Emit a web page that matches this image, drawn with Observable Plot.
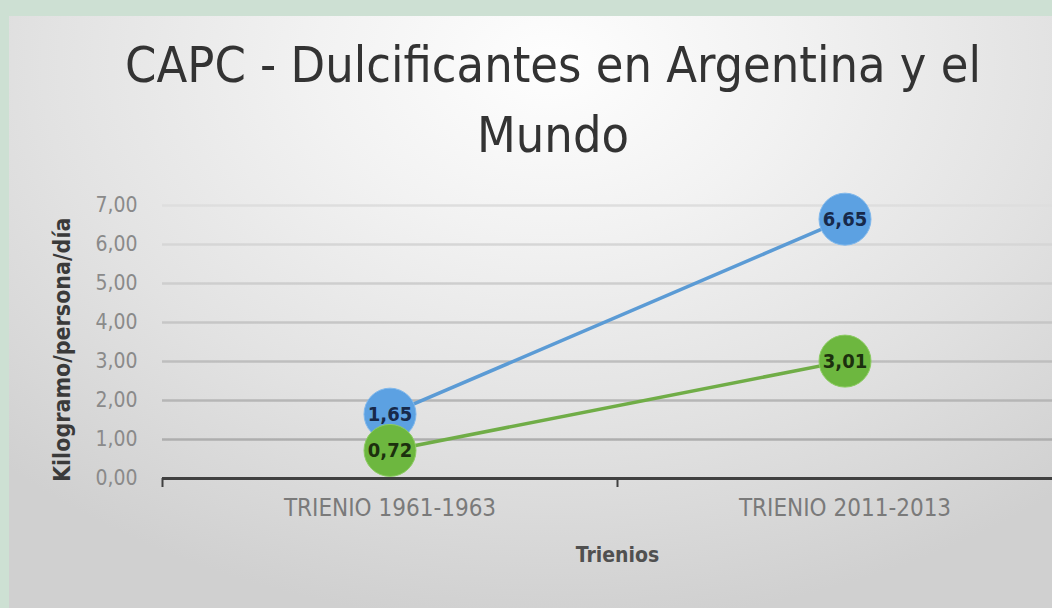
<!DOCTYPE html>
<html>
<head>
<meta charset="utf-8">
<script src="https://cdn.jsdelivr.net/npm/d3@7"></script>
<script src="https://cdn.jsdelivr.net/npm/@observablehq/plot@0.6"></script>
<style>
  html, body { margin: 0; padding: 0; width: 1052px; height: 608px; overflow: hidden; background: #cde0d3; }
  #panel {
    position: absolute; left: 9px; top: 16px; width: 1043px; height: 592px; overflow: hidden;
    background: radial-gradient(ellipse 75% 95% at 52% 8%, #fefefe 0%, #f2f2f2 30%, #e2e2e2 65%, #d0d0d0 100%);
  }
  #title {
    position: absolute; left: 0; top: 0; width: 1043px; box-sizing: border-box;
    padding-left: 45px; padding-top: 14px; text-align: center;
    font-family: "Liberation Sans Narrow", "Arial Narrow", "DejaVu Sans Condensed", sans-serif;
    font-size: 50px; line-height: 70px; color: #333333;
  }
  #chart { position: absolute; left: 0; top: 164px; }
</style>
</head>
<body>
<div id="panel">
  <div id="title">CAPC - Dulcificantes en Argentina y el<br>Mundo</div>
  <div id="chart"></div>
</div>
<script>
const categories = ["TRIENIO 1961-1963", "TRIENIO 2011-2013"];
const serieAzul = [1.65, 6.65];   // serie azul
const serieVerde = [0.72, 3.01];  // serie verde
const yTicks = [0, 1, 2, 3, 4, 5, 6, 7];
const yLabel = "Kilogramo/persona/día";
const xLabel = "Trienios";

const font = '"Liberation Sans Narrow", "Arial Narrow", "DejaVu Sans Condensed", sans-serif';
const fmt = v => v.toFixed(2).replace(".", ",");
const pos = (d, i) => i + 0.5;

const azul = categories.map((c, i) => ({c, i, v: serieAzul[i]}));
const verde = categories.map((c, i) => ({c, i, v: serieVerde[i]}));
const grid = d3.interpolateRgb("#a6a6a6", "#dedede");

const plot = Plot.plot({
  width: 1070,
  height: 428,
  marginTop: 25,
  marginBottom: 130,
  marginLeft: 153,
  marginRight: 7,
  style: {background: "transparent", maxWidth: "none", overflow: "visible", fontFamily: font},
  x: {domain: [0, categories.length], axis: null},
  y: {domain: [0, 7], axis: null},
  marks: [
    Plot.ruleY(yTicks.filter(d => d > 0), {y: d => d, stroke: d => grid(d / 7), strokeWidth: 2.5}),
    Plot.ruleY([0], {stroke: "#404040", strokeWidth: 3}),
    Plot.ruleX(d3.range(categories.length + 1), {x: d => d, y1: 0, y2: 0, insetBottom: -9, stroke: "#404040", strokeWidth: 2}),
    Plot.text(yTicks, {y: d => d, frameAnchor: "left", dx: -25, textAnchor: "end", text: fmt, fontSize: 21, fill: "#8a8a8a"}),
    Plot.text(categories, {x: pos, frameAnchor: "bottom", dy: 37, text: d => d, fontSize: 24, fill: "#7a7a7a"}),
    Plot.text([xLabel], {frameAnchor: "bottom", dy: 83, text: d => d, fontSize: 21, fontWeight: "bold", fill: "#505050"}),
    Plot.text([yLabel], {frameAnchor: "left", dx: -100, dy: 140, rotate: -90, text: d => d, fontSize: 23, fontWeight: "bold", fill: "#3a3a3a"}),
    Plot.line(azul, {x: d => d.i + 0.5, y: "v", stroke: "#5b9bd5", strokeWidth: 3.5}),
    Plot.line(verde, {x: d => d.i + 0.5, y: "v", stroke: "#70ad47", strokeWidth: 3.5}),
    Plot.dot(azul, {x: d => d.i + 0.5, y: "v", r: 26, fill: "#5ca1e2", stroke: "#80b8ec", strokeWidth: 1}),
    Plot.dot(verde, {x: d => d.i + 0.5, y: "v", r: 26, fill: "#6db73f", stroke: "#8ccb62", strokeWidth: 1}),
    Plot.text(azul, {x: d => d.i + 0.5, y: "v", text: d => fmt(d.v), fontSize: 20, fontWeight: "bold", fill: "#17294a"}),
    Plot.text(verde, {x: d => d.i + 0.5, y: "v", text: d => fmt(d.v), fontSize: 20, fontWeight: "bold", fill: "#1c300e"})
  ]
});
document.getElementById("chart").appendChild(plot);
</script>
</body>
</html>
